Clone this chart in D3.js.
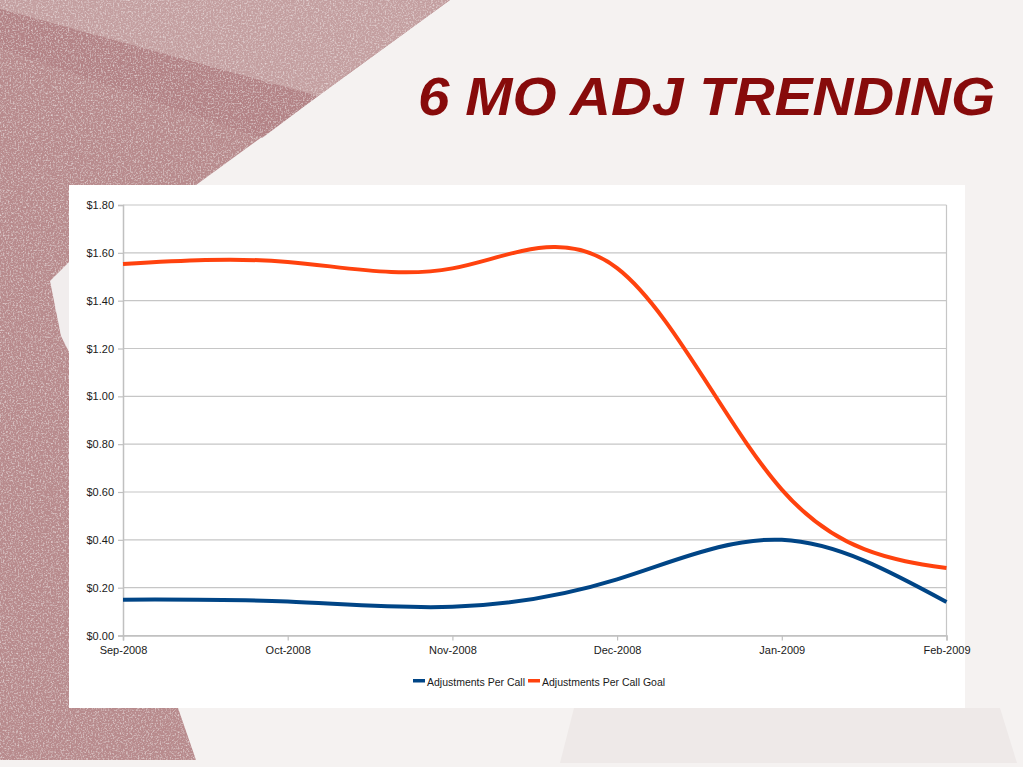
<!DOCTYPE html>
<html>
<head>
<meta charset="utf-8">
<script src="https://cdn.jsdelivr.net/npm/d3@7"></script>
<style>
  body { margin: 0; background: #f5f2f1; }
  svg { display: block; }
</style>
</head>
<body>
<script>
// chart values
var months = ["Sep-2008", "Oct-2008", "Nov-2008", "Dec-2008", "Jan-2009", "Feb-2009"];
var adjPerCall = [0.15, 0.142, 0.12, 0.235, 0.40, 0.14];
var adjPerCallGoal = [1.553, 1.562, 1.535, 1.536, 0.61, 0.282];
var yTicks = [0, 0.2, 0.4, 0.6, 0.8, 1.0, 1.2, 1.4, 1.6, 1.8];
var seriesNames = ["Adjustments Per Call", "Adjustments Per Call Goal"];
var seriesColors = ["#004586", "#ff420e"];

var W = 1023, H = 767;
var svg = d3.select("body").append("svg")
    .attr("width", W)
    .attr("height", H);

// grain filter for the textured slide background
var defs = svg.append("defs");
var grain = defs.append("filter")
    .attr("id", "grain")
    .attr("filterUnits", "userSpaceOnUse")
    .attr("x", 0).attr("y", 0).attr("width", W).attr("height", H);
grain.append("feTurbulence")
    .attr("type", "fractalNoise")
    .attr("baseFrequency", 0.6)
    .attr("numOctaves", 2)
    .attr("seed", 4)
    .attr("result", "n");
// light speckles
grain.append("feColorMatrix")
    .attr("in", "n")
    .attr("type", "matrix")
    .attr("values", "0 0 0 0 1  0 0 0 0 0.95  0 0 0 0 0.95  1.3 0 0 0 -0.62")
    .attr("result", "w");
grain.append("feComposite")
    .attr("in", "w").attr("in2", "SourceGraphic")
    .attr("operator", "in").attr("result", "wc");
// dark speckles
grain.append("feColorMatrix")
    .attr("in", "n")
    .attr("type", "matrix")
    .attr("values", "0 0 0 0 0.45  0 0 0 0 0.25  0 0 0 0 0.27  -1.1 0 0 0 0.42")
    .attr("result", "k");
grain.append("feComposite")
    .attr("in", "k").attr("in2", "SourceGraphic")
    .attr("operator", "in").attr("result", "kc");
var merge = grain.append("feMerge");
merge.append("feMergeNode").attr("in", "SourceGraphic");
merge.append("feMergeNode").attr("in", "kc");
merge.append("feMergeNode").attr("in", "wc");

// slide background
var bg = svg.append("g");
bg.append("rect").attr("width", W).attr("height", H).attr("fill", "#f5f2f1");
bg.append("polygon")
    .attr("points", "574,708 1000,708 1017,763 560,763")
    .attr("fill", "#eee9e8");

var red = bg.append("g").attr("filter", "url(#grain)");
red.append("polygon")
    .attr("points", "0,0 450,0 196,185 69,185 69,708 178,708 196,760 0,760")
    .attr("fill", "#b88b8d");
red.append("polygon")
    .attr("points", "0,0 450,0 318,96 0,9")
    .attr("fill", "#c4a0a1");
red.append("polygon")
    .attr("points", "0,9 318,96 262,138 0,48")
    .attr("fill", "#b38386");
bg.append("polygon")
    .attr("points", "50,281 69,262 69,352 61,336")
    .attr("fill", "#f1eded");

// title
svg.append("text")
    .text("6 MO ADJ TRENDING")
    .attr("x", 418)
    .attr("y", 115)
    .attr("textLength", 577)
    .attr("lengthAdjust", "spacingAndGlyphs")
    .style("font-family", "'Liberation Sans Narrow', 'Liberation Sans', Arial, sans-serif")
    .style("font-weight", "bold")
    .style("font-style", "italic")
    .attr("font-size", "53px")
    .style("fill", "#870b0b");

// chart panel
svg.append("rect")
    .attr("x", 69).attr("y", 185)
    .attr("width", 896).attr("height", 523)
    .attr("fill", "white");

var plot = { left: 123, right: 946.5, top: 205, bottom: 635.5 };

var x = d3.scalePoint()
    .domain(months)
    .range([plot.left, plot.right]);

var y = d3.scaleLinear()
    .domain([0, 1.8])
    .range([plot.bottom, plot.top]);

var chart = svg.append("g");

// gridlines
chart.append("g")
    .selectAll("line")
    .data(yTicks)
    .join("line")
    .attr("x1", plot.left).attr("x2", plot.right)
    .attr("y1", function(d) { return y(d); })
    .attr("y2", function(d) { return y(d); })
    .attr("stroke", "#c6c6c6")
    .attr("stroke-width", 1.2);

// right border of the plot area
chart.append("line")
    .attr("x1", plot.right).attr("x2", plot.right)
    .attr("y1", plot.top).attr("y2", plot.bottom)
    .attr("stroke", "#c6c6c6")
    .attr("stroke-width", 1.2);

var yAxis = chart.append("g")
    .attr("transform", "translate(" + plot.left + ",0)")
    .call(d3.axisLeft(y).tickValues(yTicks).tickFormat(d3.format("$.2f")).tickSize(5).tickPadding(4));

var xAxis = chart.append("g")
    .attr("transform", "translate(0," + plot.bottom + ")")
    .call(d3.axisBottom(x).tickSize(5).tickPadding(6));

[yAxis, xAxis].forEach(function(ax) {
  ax.select(".domain").attr("stroke", "#c0c0c0").attr("stroke-width", 1.5);
  ax.selectAll(".tick line").attr("stroke", "#c0c0c0").attr("stroke-width", 1.2);
  ax.selectAll("text")
      .style("font-family", "'Liberation Sans', Arial, sans-serif")
      .attr("font-size", "11px")
      .attr("fill", "#1a1a1a");
});

// the two series, smoothed
var line = d3.line()
    .x(function(d, i) { return x(months[i]); })
    .y(function(d) { return y(d); })
    .curve(d3.curveNatural);

[adjPerCall, adjPerCallGoal].forEach(function(values, i) {
  chart.append("path")
      .datum(values)
      .attr("d", line)
      .attr("fill", "none")
      .attr("stroke", seriesColors[i])
      .attr("stroke-width", 4)
      .attr("stroke-linejoin", "round");
});

// legend
var legend = svg.append("g").attr("transform", "translate(413,681)");
var legendX = [0, 115];
seriesNames.forEach(function(name, i) {
  var item = legend.append("g").attr("transform", "translate(" + legendX[i] + ",0)");
  item.append("rect")
      .attr("x", 0).attr("y", -2)
      .attr("width", 12).attr("height", 3.5)
      .attr("fill", seriesColors[i]);
  item.append("text")
      .text(name)
      .attr("x", 14)
      .attr("y", 5)
      .style("font-family", "'Liberation Sans', Arial, sans-serif")
      .attr("font-size", "10.5px")
      .style("fill", "#1a1a1a");
});
</script>
</body>
</html>
